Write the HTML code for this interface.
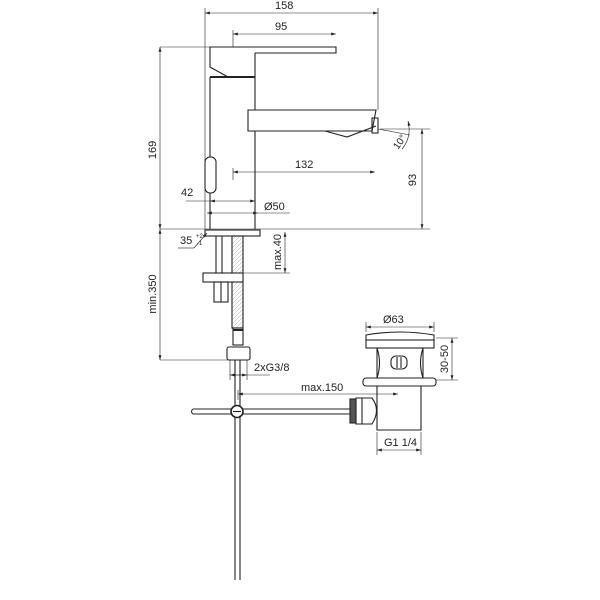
<!DOCTYPE html>
<html><head><meta charset="utf-8"><style>
html,body{margin:0;padding:0;background:#fff;}
svg{display:block;}
text{font-family:"Liberation Sans",sans-serif;font-size:11px;fill:#222;}
</style></head><body>
<svg width="600" height="600" viewBox="0 0 600 600" xmlns="http://www.w3.org/2000/svg">
<defs>
<marker id="a" viewBox="0 0 10 6" refX="10" refY="3" markerWidth="8" markerHeight="5" orient="auto-start-reverse"><path d="M0,0L10,3L0,6z" fill="#222"/></marker>
<pattern id="h" width="4" height="4" patternUnits="userSpaceOnUse"><path d="M0,4L4,0" stroke="#aaa" stroke-width="0.5"/></pattern>
</defs>
<g stroke="#222" stroke-width="0.6" fill="none">
<line x1="205" y1="8" x2="205" y2="229"/>
<line x1="378" y1="8" x2="378" y2="110"/>
<line x1="233" y1="30" x2="233" y2="47"/>
<line x1="160" y1="47" x2="233" y2="47"/>
<line x1="160" y1="229" x2="430" y2="229"/>
<line x1="380" y1="129" x2="430" y2="129"/>
<line x1="233" y1="168" x2="233" y2="180"/>
<line x1="258" y1="213" x2="290" y2="213"/>
<line x1="160" y1="360" x2="230" y2="360"/>
<line x1="243" y1="273" x2="290" y2="273"/>
<line x1="230" y1="360" x2="230" y2="380"/>
<line x1="247" y1="360" x2="247" y2="380"/>
<line x1="238" y1="390" x2="238" y2="400"/>
<line x1="366" y1="322" x2="366" y2="332"/>
<line x1="434" y1="322" x2="434" y2="332"/>
<line x1="436" y1="338" x2="458" y2="338"/>
<line x1="436" y1="380" x2="458" y2="380"/>
<line x1="377" y1="432" x2="377" y2="455"/>
<line x1="421" y1="432" x2="421" y2="455"/>
<line x1="205" y1="13" x2="378" y2="13" marker-start="url(#a)" marker-end="url(#a)"/>
<line x1="233" y1="34" x2="336" y2="34" marker-start="url(#a)" marker-end="url(#a)"/>
<line x1="160" y1="47" x2="160" y2="229" marker-start="url(#a)" marker-end="url(#a)"/>
<line x1="422" y1="129" x2="422" y2="229" marker-start="url(#a)" marker-end="url(#a)"/>
<line x1="233" y1="172" x2="375" y2="172" marker-start="url(#a)" marker-end="url(#a)"/>
<line x1="186" y1="201" x2="210" y2="201"/>
<line x1="210" y1="201" x2="255" y2="201" marker-start="url(#a)" marker-end="url(#a)"/>
<line x1="207" y1="213" x2="258" y2="213" marker-start="url(#a)" marker-end="url(#a)"/>
<line x1="160" y1="229" x2="160" y2="360" marker-start="url(#a)" marker-end="url(#a)"/>
<line x1="285" y1="232" x2="285" y2="273" marker-start="url(#a)" marker-end="url(#a)"/>
<line x1="230" y1="375" x2="270" y2="375"/>
<line x1="230" y1="375" x2="247" y2="375" marker-start="url(#a)" marker-end="url(#a)"/>
<line x1="238" y1="394" x2="398" y2="394" marker-start="url(#a)" marker-end="url(#a)"/>
<line x1="366" y1="327" x2="434" y2="327" marker-start="url(#a)" marker-end="url(#a)"/>
<line x1="452" y1="338" x2="452" y2="380" marker-start="url(#a)" marker-end="url(#a)"/>
<line x1="377" y1="450" x2="421" y2="450" marker-start="url(#a)" marker-end="url(#a)"/>
<line x1="178" y1="248" x2="194" y2="248"/>
<line x1="194" y1="248" x2="207" y2="233" marker-end="url(#a)"/>
<line x1="378" y1="129" x2="410" y2="135"/>
<path d="M408,121 Q412,137 402,149" marker-start="url(#a)"/>
</g>
<g stroke="#222" stroke-width="1.1" fill="none">
<path d="M210,77 L210,229"/>
<path d="M255,53 L255,110 M255,131 L255,229"/>
<path d="M210,49 L210,47 L336,47 L336,53 L255,53"/>
<path d="M210,49 L210,67 L228,77"/>
<line x1="210" y1="77" x2="255" y2="77" stroke-width="2"/>
<rect x="205" y="157" width="11" height="36" rx="5" fill="#fff"/>
<path d="M248,110 L376,110 L372,131 L248,131 Z"/>
<path d="M325,131 L347,137 L376,126"/>
<rect x="372" y="118" width="6" height="15"/>
<rect x="205" y="230" width="55" height="6"/>
<path d="M216,236 L216,273 M222,236 L222,273"/>
<rect x="232" y="236" width="11" height="92" fill="url(#h)"/>
<rect x="203" y="273" width="40" height="9" fill="#fff"/>
<rect x="214" y="282" width="14" height="20"/>
<line x1="221" y1="282" x2="221" y2="302"/>
<rect x="233" y="328" width="10" height="17"/>
<line x1="233" y1="330" x2="243" y2="330" stroke-width="2"/>
<rect x="227" y="347" width="23" height="13" rx="2"/>
<path d="M235,360 L235,580 M240,360 L240,580"/>
<path d="M193,409 L350,409 M193,414 L350,414 M193,409 Q190,411.5 193,414"/>
<circle cx="237" cy="411.5" r="6" fill="#fff" stroke-width="1.6"/>
<line x1="233" y1="411.5" x2="241" y2="411.5"/>
<path d="M366,340 L366,335 Q400,329 434,335 L434,340 Z"/>
<rect x="366" y="340" width="68" height="8"/>
<path d="M377,348 Q382,363 377,378 M423,348 Q418,363 423,378 M377,348 L377,378 M423,348 L423,378"/>
<rect x="391" y="356" width="16" height="13" rx="5"/>
<line x1="397" y1="357" x2="397" y2="368"/><line x1="401" y1="357" x2="401" y2="368"/>
<rect x="363" y="378" width="73" height="8" rx="3"/>
<path d="M377,386 L377,430 L421,430 L421,386"/>
<path d="M356,398 L372,398 Q381,410 372,424 L356,424 Z" fill="#fff"/>
<line x1="362" y1="398" x2="362" y2="424"/>
<rect x="350" y="399" width="6" height="24" fill="#555"/>
</g>
<g>
<text x="275" y="9">158</text>
<text x="275" y="30">95</text>
<text x="295" y="168">132</text>
<text x="181" y="196">42</text>
<text x="264" y="210">Ø50</text>
<text x="180" y="244">35</text>
<text x="196" y="238" style="font-size:6px">+2</text>
<text x="197" y="245" style="font-size:6px">-1</text>
<text x="301" y="391">max.150</text>
<text x="254" y="371">2xG3/8</text>
<text x="383" y="323">Ø63</text>
<text x="384" y="446">G1 1/4</text>
<text transform="translate(156,150) rotate(-90)" text-anchor="middle">169</text>
<text transform="translate(416,180) rotate(-90)" text-anchor="middle">93</text>
<text transform="translate(156,294) rotate(-90)" text-anchor="middle">min.350</text>
<text transform="translate(281,252) rotate(-90)" text-anchor="middle">max.40</text>
<text transform="translate(448,359) rotate(-90)" text-anchor="middle">30-50</text>
<text transform="translate(398,150) rotate(-55)" style="font-size:10px">10°</text>
</g>
</svg>
</body></html>
